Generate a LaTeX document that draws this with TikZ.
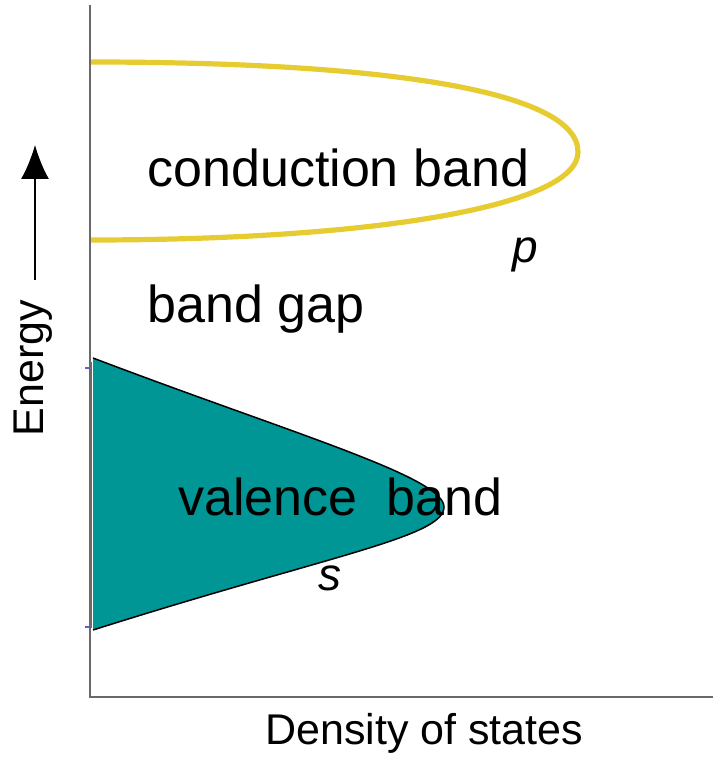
\documentclass[tikz,border=0pt]{standalone}
\usepackage{fontspec}
\setmainfont{Liberation Sans}
\usetikzlibrary{arrows.meta,positioning}
\definecolor{bandyellow}{RGB}{230,204,48}
\definecolor{bandteal}{RGB}{0,150,150}
\definecolor{axisgray}{RGB}{105,105,105}
\definecolor{edgeblue}{RGB}{95,95,200}

\begin{document}
\begin{tikzpicture}[
  x=0.5pt, y=-0.5pt,
  axis/.style={draw=axisgray, line width=1pt},
  arr/.style={-{Latex[length=17pt, width=14pt]}, line width=0.8pt},
  lbl/.style={font=\fontsize{26}{30}\selectfont, inner sep=0pt, anchor=base west},
  ax/.style={font=\fontsize{21.5}{26}\selectfont, inner sep=0pt},
  orb/.style={font=\fontsize{23}{28}\selectfont\itshape, inner sep=0pt, anchor=base west}
]
  \useasboundingbox (0,0) rectangle (715,759);

  \coordinate (orig) at (90,697);
  \coordinate (ytop) at (90,5);
  \coordinate (xend) at (713,697);

  % valence band (s)
  \fill[bandteal] (93,358) .. controls (293,434) and (444,477) .. (444,507)
    .. controls (444,537) and (330,555) .. (93,630) -- cycle;
  \draw[line width=0.75pt] (93,358) .. controls (293,434) and (444,477) .. (444,507)
    .. controls (444,537) and (330,555) .. (93,630);
  \draw[edgeblue, line width=1pt] (91,362) -- (91,628);
  \draw[edgeblue, line width=1.2pt] (85,368) -- (92,368) (85,627) -- (92,627);

  % conduction band (p)
  \draw[bandyellow, line width=2.6pt] (90,62) .. controls (380,62) and (578,90) .. (578,152)
    .. controls (578,205) and (380,240) .. (90,240);

  \draw[axis] (ytop) -- (orig) -- (xend);

  \node[lbl] (cb) at (147,187) {conduction band};
  \node[orb] (p) at (512,262) {p};
  \node[lbl] (gap) at (147,322) {band gap};
  \node[lbl] (vb) at (178,515) {valence\ \ band};
  \node[orb] (s) at (318,590) {s};

  \node[ax, rotate=90, anchor=base] (energy) at (43,368) {Energy};
  \coordinate (etail) at (35,280);
  \coordinate (etip) at (35,145);
  \draw[arr] (etail) -- (etip);

  \node[ax, anchor=base west] (dos) at (265,744) {Density of states};
\end{tikzpicture}
\end{document}
